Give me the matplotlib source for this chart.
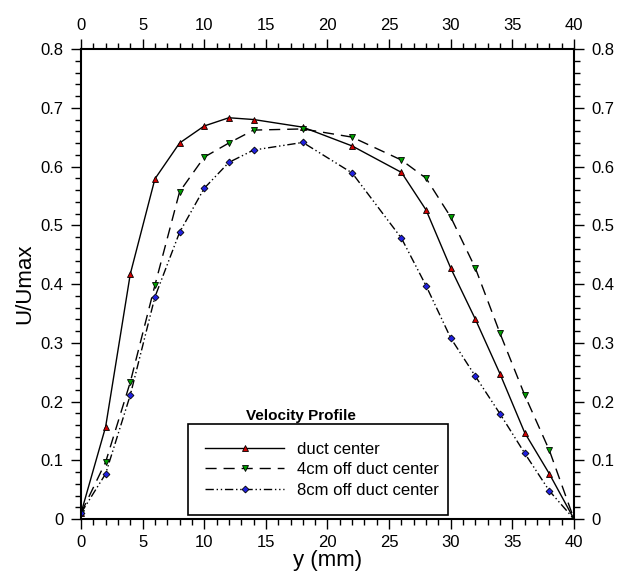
import matplotlib
matplotlib.use("Agg")
import matplotlib.pyplot as plt
from matplotlib.ticker import MultipleLocator
from matplotlib.lines import Line2D

plt.rcParams['font.family'] = ['Liberation Sans', 'DejaVu Sans']

# positions across the duct (mm)
y_mm = [0, 2, 4, 6, 8, 10, 12, 14, 18, 22, 26, 28, 30, 32, 34, 36, 38, 40]

# normalised velocity U/Umax
duct_center = [0.01, 0.157, 0.417, 0.579, 0.64, 0.669, 0.683, 0.68, 0.667, 0.635,
               0.59, 0.526, 0.427, 0.34, 0.247, 0.147, 0.077, 0.0]
off_4cm = [0.01, 0.097, 0.233, 0.398, 0.557, 0.616, 0.64, 0.662, 0.664, 0.65,
           0.611, 0.58, 0.514, 0.427, 0.316, 0.211, 0.117, 0.0]
off_8cm = [0.01, 0.077, 0.211, 0.378, 0.488, 0.563, 0.607, 0.628, 0.641, 0.589,
           0.478, 0.397, 0.308, 0.243, 0.179, 0.112, 0.048, 0.0]

labels = ["duct center", "4cm off duct center", "8cm off duct center"]

styles = [
    dict(ls='-', marker='^', ms=4, mfc='#d00000'),
    dict(ls=(0, (8, 5)), marker='v', ms=4, mfc='#00a000'),
    dict(ls=(0, (6, 2, 1, 2, 1, 2)), marker='D', ms=3.5, mfc='#2020e0'),
]

fig = plt.figure(figsize=(6.21, 5.78), dpi=100)
ax = fig.add_axes([0.1304, 0.102, 0.7939, 0.8132])

for vals, st in zip([duct_center, off_4cm, off_8cm], styles):
    ax.plot(y_mm, vals, color='black', lw=1.0, mec='black', mew=0.6, **st)

ax.set_xlim(0, 40)
ax.set_ylim(0, 0.8)
ax.xaxis.set_major_locator(MultipleLocator(5))
ax.xaxis.set_minor_locator(MultipleLocator(1))
ax.yaxis.set_major_locator(MultipleLocator(0.1))
ax.yaxis.set_minor_locator(MultipleLocator(0.02))
ax.yaxis.set_major_formatter(plt.FuncFormatter(lambda v, p: "0" if abs(v) < 1e-9 else f"{v:.1f}"))

ax.tick_params(which='both', direction='out', top=True, right=True,
               labeltop=True, labelright=True, labelsize=12, width=1.0)
ax.tick_params(which='major', length=7)
ax.tick_params(which='minor', length=4)
ax.tick_params(axis='x', which='major', pad=4.5)
ax.tick_params(axis='y', which='major', pad=5.5)
for s in ax.spines.values():
    s.set_linewidth(1.5)

ax.set_xlabel("y (mm)", fontsize=16, labelpad=0)
ax.set_ylabel("U/Umax", fontsize=16, labelpad=4)

handles = [Line2D([], [], color='black', lw=1.0, mec='black', mew=0.6, **st) for st in styles]
leg = ax.legend(handles, labels, loc='lower left', bbox_to_anchor=(0.217, 0.0085, 0.527, 0.19),
                mode='expand', fontsize=12, handlelength=4.7, handletextpad=0.8,
                labelspacing=0.33, borderpad=1.05, borderaxespad=0, fancybox=False,
                framealpha=1, edgecolor='black')
leg.get_frame().set_linewidth(1.2)
ax.text(0.446, 0.205, "Velocity Profile", transform=ax.transAxes,
        fontsize=11, fontweight='bold', ha='center', va='bottom')

fig.savefig("out.png", dpi=100)
